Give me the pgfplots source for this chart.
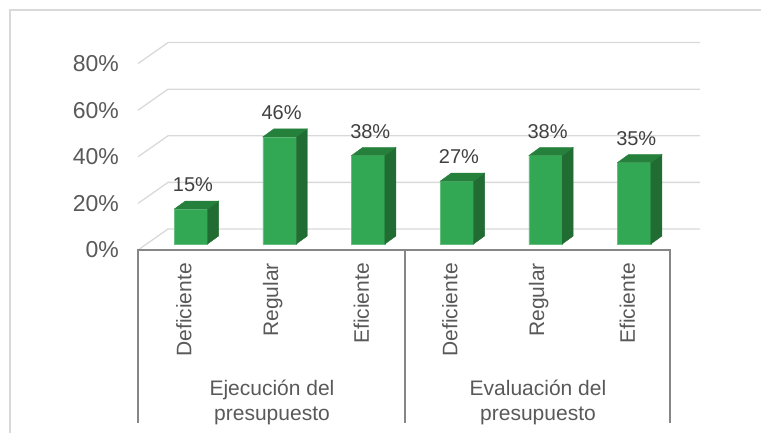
\documentclass[border=0pt]{standalone}
\usepackage{pgfplots}
\usepackage{pgfplotstable}
\pgfplotsset{compat=1.18}
\usepackage{fontspec}
\setmainfont{Liberation Sans}
\definecolor{barfront}{RGB}{51,168,84}
\definecolor{barside}{RGB}{33,108,50}
\definecolor{bartop}{RGB}{37,128,60}
\definecolor{gridc}{RGB}{217,217,217}
\definecolor{axisc}{RGB}{134,134,134}
\definecolor{tickc}{RGB}{89,89,89}
\definecolor{labc}{RGB}{64,64,64}
\pgfplotstableread{
x y
0.5 15
1.5 46
2.5 38
3.5 27
4.5 38
5.5 35
}\datatable
\begin{document}
\begin{tikzpicture}
\begin{scope}[x=1pt,y=-1pt,yshift=433pt]
% chart border (partly cropped)
\draw[gridc, line width=1.3pt] (10,445) -- (10,10) -- (775,10);
% 3D grid: floor-side diagonals and back wall lines
\foreach \v in {0,20,40,60,80} {
  \draw[gridc, line width=1.3pt] (138,{250-2.33*\v}) -- (168,{229-2.33*\v}) -- (700,{229-2.33*\v});
}
% category axis with group separators
\draw[axisc, line width=1.4pt] (138,423) -- (138,250) -- (670,250) -- (670,423);
\draw[axisc, line width=1.4pt] (405,250) -- (405,423);
% group labels
\node[text=tickc, font=\fontsize{21}{25}\selectfont, align=center, anchor=north, inner sep=0pt] at (272,380) {Ejecución del\\presupuesto};
\node[text=tickc, font=\fontsize{21}{25}\selectfont, align=center, anchor=north, inner sep=0pt] at (538,380) {Evaluación del\\presupuesto};
\end{scope}
\begin{axis}[
  at={(146.6pt,189pt)}, anchor=south west,
  scale only axis, width=532pt, height=186.4pt,
  xmin=0, xmax=6, ymin=0, ymax=80,
  clip=false,
  axis line style={draw=none},
  tick style={draw=none},
  ytick={0,20,40,60,80},
  yticklabels={0\%,20\%,40\%,60\%,80\%},
  yticklabel style={font=\fontsize{23}{23}\selectfont, text=tickc, inner sep=0pt, anchor=east, xshift=-27.6pt, yshift=-6pt},
  xtick={0.5,1.5,2.5,3.5,4.5,5.5},
  xticklabels={Deficiente,Regular,Eficiente,Deficiente,Regular,Eficiente},
  xticklabel style={xshift=-7pt, yshift=-19pt, rotate=90, anchor=east, inner sep=0pt, font=\fontsize{21}{21}\selectfont, text=tickc},
]
% side and top faces of the 3D bars, from the same data
\addplot[scatter, only marks, mark=*, mark size=0pt,
  visualization depends on={rawy \as \barh},
  scatter/@pre marker code/.append code={
    \fill[barside] (16.65pt,0pt) -- (27.65pt,8pt) -- (27.65pt,{8pt-\barh*2.33pt}) -- (16.65pt,{-\barh*2.33pt}) -- cycle;
    \fill[bartop] (-16.65pt,0pt) -- (16.65pt,0pt) -- (27.65pt,8pt) -- (-5.65pt,8pt) -- cycle;
  }] table[x=x,y=y] {\datatable};
% front faces with labels
\addplot[ybar, bar width=33.3pt, bar shift=0pt, fill=barfront, draw=barfront!75!white, line width=0.5pt,
  nodes near coords={\pgfmathprintnumber[assume math mode=true]{\pgfplotspointmeta}\%},
  every node near coord/.append style={anchor=south, inner sep=0pt, yshift=17pt, xshift=2pt, font=\fontsize{20}{20}\selectfont, text=labc}
  ] table[x=x,y=y] {\datatable};
\end{axis}
\pgfresetboundingbox
\useasboundingbox (0,0) rectangle (761pt,433pt);
\end{tikzpicture}
\end{document}
